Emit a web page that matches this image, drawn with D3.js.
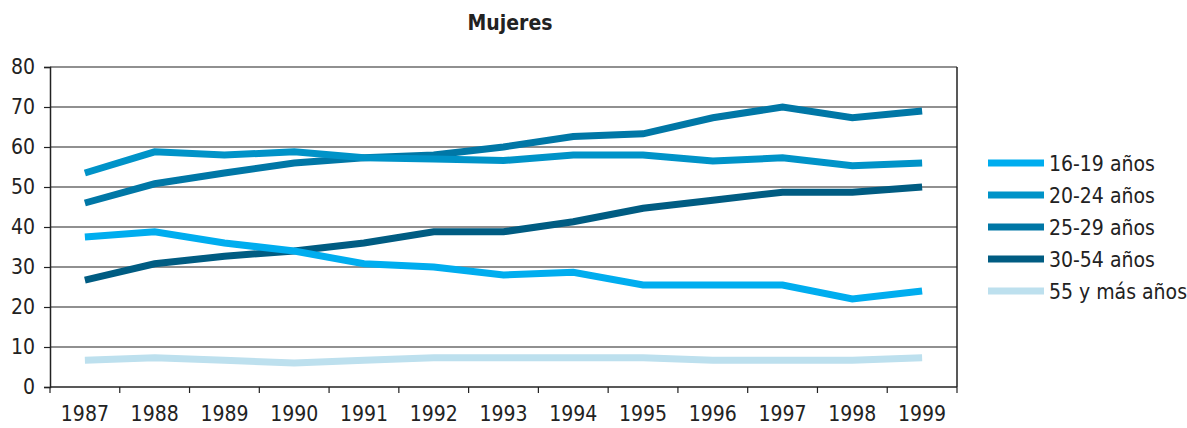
<!DOCTYPE html>
<html lang="es">
<head>
<meta charset="UTF-8">
<title>Mujeres</title>
<style>
  body { margin: 0; background: #fff; }
  svg text { font-family: "Liberation Sans Narrow", "DejaVu Sans Condensed", sans-serif; fill: #222; }
</style>
</head>
<body>
<svg id="chart" width="1187" height="428"></svg>
<script src="https://d3js.org/d3.v7.min.js"></script>
<script>
// data
const years = ['1987','1988','1989','1990','1991','1992','1993','1994','1995','1996','1997','1998','1999'];
const s1619 = [37.5, 38.8, 36, 34, 30.8, 30, 28, 28.7, 25.5, 25.5, 25.5, 22, 24];
const s2024 = [53.5, 58.8, 58, 58.8, 57.3, 57, 56.6, 58, 58, 56.5, 57.3, 55.3, 56];
const s2529 = [46, 50.8, 53.5, 56, 57.3, 58, 60, 62.6, 63.3, 67.3, 70, 67.3, 69];
const s3054 = [26.7, 30.8, 32.7, 34, 36, 38.8, 38.8, 41.3, 44.7, 46.7, 48.7, 48.7, 50];
const s55 = [6.7, 7.3, 6.7, 6, 6.7, 7.3, 7.3, 7.3, 7.3, 6.7, 6.7, 6.7, 7.3];
const yTicks = [0, 10, 20, 30, 40, 50, 60, 70, 80];

const series = [
  { name: '16-19 años', values: s1619, color: '#00adef' },
  { name: '20-24 años', values: s2024, color: '#0093c8' },
  { name: '25-29 años', values: s2529, color: '#0077a6' },
  { name: '30-54 años', values: s3054, color: '#005c82' },
  { name: '55 y más años', values: s55, color: '#bde0ee' }
];

const svg = d3.select('#chart');
const plotL = 50, plotR = 957, plotT = 67, plotB = 387;

const x = d3.scaleBand().domain(years).range([plotL, plotR]);
const y = d3.scaleLinear().domain([0, 80]).range([plotB, plotT]);

// title
svg.append('text')
  .attr('x', 510).attr('y', 30)
  .attr('text-anchor', 'middle')
  .style('font-size', '21px').style('font-weight', 'bold')
  .text('Mujeres');

// grid lines
svg.append('g').selectAll('line')
  .data(yTicks.filter(d => d > 0))
  .enter().append('line')
  .attr('x1', plotL).attr('x2', plotR)
  .attr('y1', d => y(d)).attr('y2', d => y(d))
  .attr('stroke', '#222').attr('stroke-width', 1.2);

// right border
svg.append('line')
  .attr('x1', plotR).attr('x2', plotR).attr('y1', plotT).attr('y2', plotB)
  .attr('stroke', '#222').attr('stroke-width', 1.5);

// y axis
const yAxis = svg.append('g')
  .attr('transform', `translate(${plotL},0)`)
  .call(d3.axisLeft(y).tickValues(yTicks).tickSize(6).tickPadding(9));
yAxis.select('.domain').attr('stroke', '#222').attr('stroke-width', 1.5);
yAxis.selectAll('.tick line').attr('stroke', '#222').attr('stroke-width', 1.2);
yAxis.selectAll('text').style('font-size', '21px').attr('fill', '#222');

// x axis: ticks on band boundaries
const xAxis = svg.append('g')
  .attr('transform', `translate(0,${plotB})`);
xAxis.append('line')
  .attr('x1', plotL).attr('x2', plotR)
  .attr('stroke', '#222').attr('stroke-width', 1.5);
xAxis.selectAll('.tk')
  .data(years.concat(['end']))
  .enter().append('line')
  .attr('x1', (d, i) => i < years.length ? x(d) : plotR)
  .attr('x2', (d, i) => i < years.length ? x(d) : plotR)
  .attr('y1', 0).attr('y2', 6)
  .attr('stroke', '#222').attr('stroke-width', 1.2);
xAxis.selectAll('text')
  .data(years)
  .enter().append('text')
  .attr('x', d => x(d) + x.bandwidth() / 2)
  .attr('y', 34)
  .attr('text-anchor', 'middle')
  .style('font-size', '21px')
  .text(d => d);

// lines
const line = d3.line()
  .x((d, i) => x(years[i]) + x.bandwidth() / 2)
  .y(d => y(d));

svg.append('g').selectAll('path')
  .data(series.slice().reverse())
  .enter().append('path')
  .attr('d', d => line(d.values))
  .attr('fill', 'none')
  .attr('stroke', d => d.color)
  .attr('stroke-width', 7);

// legend
const legend = svg.append('g').selectAll('g')
  .data(series)
  .enter().append('g')
  .attr('transform', (d, i) => `translate(988,${163 + i * 32})`);
legend.append('line')
  .attr('x1', 0).attr('x2', 56)
  .attr('stroke', d => d.color).attr('stroke-width', 7);
legend.append('text')
  .attr('x', 61).attr('y', 8)
  .style('font-size', '21px')
  .text(d => d.name);
</script>
</body>
</html>
